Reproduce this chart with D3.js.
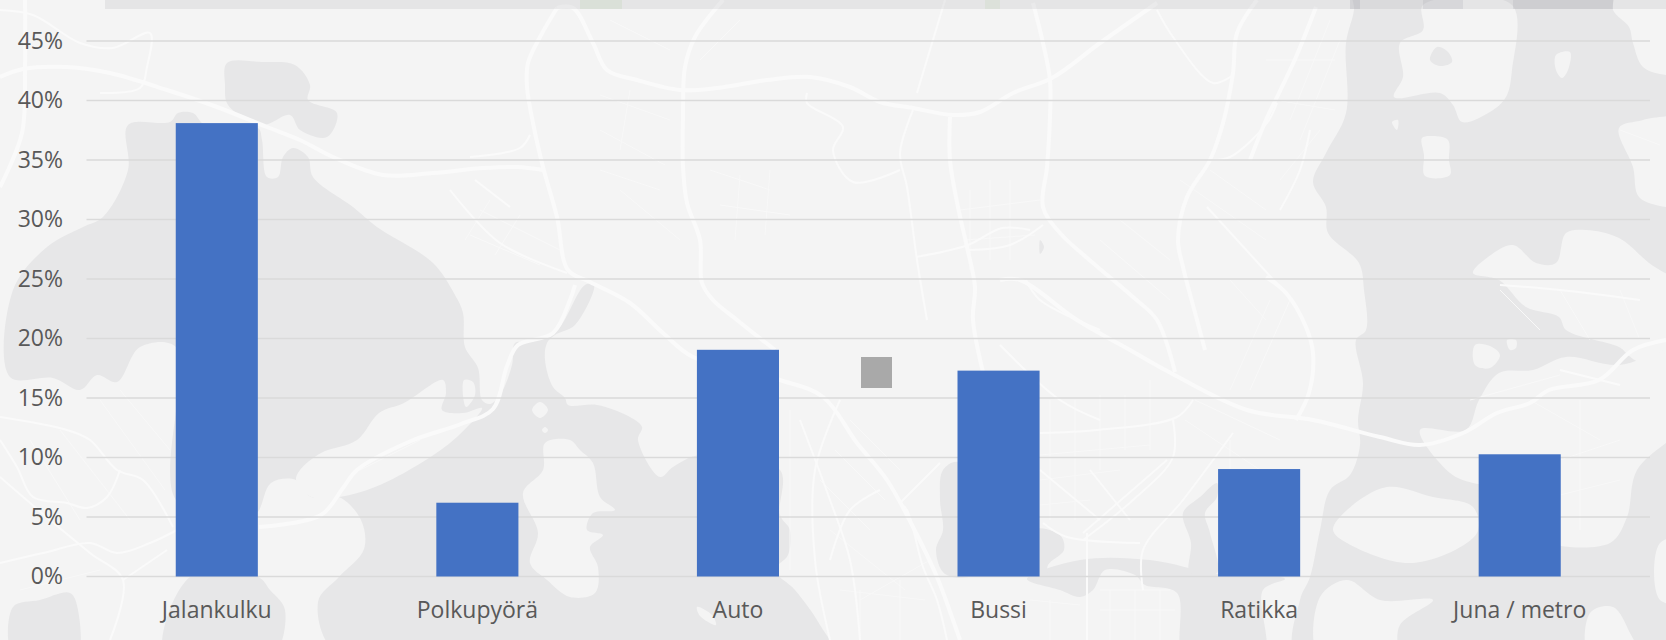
<!DOCTYPE html>
<html lang="fi">
<head>
<meta charset="utf-8">
<title>Kulkutavat</title>
<script src="https://cdnjs.cloudflare.com/ajax/libs/d3/7.8.5/d3.min.js"></script>
<style>
	html, body { margin: 0; padding: 0; background: #f4f4f4; overflow: hidden; }
	svg { display: block; }
	text { font-family: 'Open Sans', 'Noto Sans', sans-serif; }
</style>
</head>
<body>
<svg id="chart" width="1666" height="640"></svg>
<script>
// chart data
const categories = ['Jalankulku', 'Polkupyörä', 'Auto', 'Bussi', 'Ratikka', 'Juna / metro'];
const shares = [38.1, 6.2, 19.05, 17.3, 9.03, 10.27];
const tickValues = [0, 5, 10, 15, 20, 25, 30, 35, 40, 45];

// backdrop map, traced by hand (pixel coordinates, decoration only)
const waterAreas = [
	[[128,125],[170,122],[178,113],[193,113],[205,125],[258,128],[262,140],[267,177],[278,177],[283,157],[293,148],[308,157],[313,177],[353,207],[377,227],[433,263],[455,295],[463,313],[465,347],[478,368],[482,400],[490,404],[500,395],[512,365],[515,343],[530,342],[555,333],[585,285],[594,285],[575,325],[555,335],[547,343],[545,360],[553,387],[565,398],[568,405],[597,405],[630,417],[642,427],[638,440],[660,477],[673,467],[700,455],[780,470],[780,515],[790,530],[788,555],[775,570],[795,590],[820,625],[835,660],[343,660],[318,602],[339,577],[364,549],[361,520],[339,497],[311,497],[296,480],[271,483],[257,513],[240,520],[176,500],[176,347],[140,347],[117,382],[97,375],[80,390],[53,378],[10,377],[13,290],[47,247],[83,227],[103,217],[128,170]],
	[[190,577],[258,577],[270,590],[285,610],[270,660],[165,660]],
	[[13,607],[40,600],[70,593],[78,610],[75,660],[15,660]],
	[[227,63],[262,62],[295,65],[310,85],[308,100],[337,113],[327,137],[300,130],[290,115],[262,125],[228,105],[225,85]],
	[[1354,-10],[1354,10],[1346,43],[1346,113],[1326,153],[1313,182],[1326,207],[1328,233],[1359,263],[1364,290],[1366,330],[1356,340],[1363,383],[1358,420],[1360,445],[1350,475],[1330,490],[1320,530],[1310,577],[1300,600],[1298,660],[1690,660],[1690,207],[1666,207],[1639,197],[1633,167],[1619,128],[1643,120],[1690,108],[1690,75],[1666,75],[1643,67],[1633,43],[1629,27],[1613,10],[1613,-10]],
	[[1027,579],[1060,590],[1080,597],[1093,590],[1105,570],[1135,575],[1145,585],[1177,593],[1185,660],[1263,660],[1263,590],[1285,579],[1217,574],[1150,560],[1080,560]],
	[[958,462],[943,470],[940,500],[943,530],[936,550],[945,574],[975,574],[985,520]],
	[[1030,530],[1060,535],[1064,550],[1048,565],[1046,582],[1030,578]],
	[[1217,483],[1200,497],[1183,513],[1191,543],[1190,573],[1217,573],[1210,533],[1205,513],[1217,497]],
	[[1040,240],[1044,247],[1040,254]],
];
const landAreas = [
	[[300,470],[321,453],[357,440],[379,413],[404,403],[443,380],[446,393],[442,410],[463,413],[482,408],[457,437],[421,463],[375,487],[339,497],[311,497],[296,480]],
	[[545,443],[570,440],[580,450],[593,463],[600,497],[615,510],[593,513],[587,530],[603,535],[590,547],[598,567],[595,593],[570,597],[547,580],[530,563],[538,533],[523,493],[543,470]],
	[[464,380],[473,382],[475,395],[466,407]],
	[[532,410],[540,402],[548,410],[540,418]],
	[[542,430],[545,427],[548,430],[545,433]],
	[[1473,273],[1488,257],[1513,245],[1536,263],[1556,263],[1566,233],[1586,230],[1619,238],[1649,263],[1690,293],[1690,340],[1640,360],[1619,347],[1566,330],[1559,317],[1526,307],[1499,280]],
	[[1619,365],[1566,357],[1533,370],[1499,373],[1479,400],[1466,430],[1420,430],[1450,473],[1473,483],[1530,490],[1530,530],[1547,543],[1610,543],[1627,517],[1637,470],[1690,417],[1690,345]],
	[[1333,530],[1347,510],[1387,487],[1433,497],[1473,507],[1477,533],[1413,563],[1347,543]],
	[[1320,597],[1347,580],[1380,600],[1433,600],[1400,625],[1393,660],[1320,660]],
	[[1590,613],[1613,607],[1630,633],[1640,660],[1590,660]],
	[[1660,543],[1690,540],[1690,600],[1660,600]],
	[[1422,138],[1433,136],[1448,140],[1449,160],[1450,175],[1425,176],[1424,155]],
	[[1556,55],[1570,52],[1568,70],[1562,78],[1556,70]],
	[[1392,122],[1398,120],[1397,130]],
	[[1423,5],[1423,30],[1400,43],[1403,77],[1394,97],[1440,93],[1453,105],[1462,122],[1490,112],[1506,97],[1512,70],[1512,5]],
	[[1618,340],[1650,335],[1666,345],[1640,362]],
	[[1475,345],[1490,346],[1500,355],[1490,368],[1475,365]],
	[[1507,340],[1516,340],[1516,348],[1510,350]],
	[[697,607],[712,615],[716,625],[700,616]],
	[[1655,135],[1690,120],[1690,200],[1660,190]],
];
const ponds = [
	[[1430,60],[1437,47],[1448,52],[1452,62],[1440,66]],
];
const mainRoads = [
	[[0,77],[23,69],[67,67],[110,73],[167,90],[217,107],[267,127],[300,140],[333,157],[383,175],[433,173],[483,168],[517,167],[543,170]],
	[[557,8],[540,37],[528,63],[527,87],[533,123],[543,167],[557,217],[568,270],[590,282],[630,303],[663,333],[693,357],[780,380],[823,397],[857,443],[887,480],[913,527],[937,577],[953,620],[960,640]],
	[[557,8],[573,8],[593,43],[607,70],[637,80],[680,90],[717,88],[767,80],[810,77],[850,87],[880,102],[913,108],[953,115],[980,112],[1013,93],[1052,78],[1100,43],[1157,3]],
	[[723,0],[695,37],[685,67],[683,117],[683,167],[687,203],[700,240],[702,283],[713,300],[737,320],[775,350]],
	[[1033,3],[1043,43],[1050,80],[1050,117],[1047,167],[1043,207],[1060,233],[1093,263],[1133,297],[1157,320],[1175,372]],
	[[1000,280],[1020,280],[1077,320],[1130,350],[1169,372],[1247,410],[1313,420],[1380,437],[1420,445],[1463,433],[1497,413],[1530,403],[1549,390],[1599,380],[1633,350],[1666,340]],
	[[1257,0],[1237,33],[1233,73],[1223,123],[1210,160],[1187,197],[1178,240],[1183,267],[1197,320],[1205,350]],
	[[950,117],[950,160],[958,207],[967,247],[975,287],[973,320],[990,400]],
	[[25,0],[25,67],[22,133],[0,187]],
	[[259,527],[321,515],[343,488],[357,470],[411,441],[461,424],[493,409],[507,366],[518,345],[553,333],[570,300],[575,285]],
	[[1316,7],[1296,57],[1279,93],[1266,120],[1250,160]],
	[[1266,277],[1286,293],[1306,327],[1313,353],[1309,393],[1296,420]],
];
const minorRoads = [
	[[0,10],[33,15],[80,43],[113,48],[150,33],[147,67],[140,88],[100,93]],
	[[0,417],[67,430],[90,440],[117,470],[143,480],[173,527]],
	[[120,470],[107,497],[87,508],[67,503],[33,497],[17,467],[0,440]],
	[[0,477],[50,520],[90,553],[123,580],[110,640]],
	[[0,563],[43,553],[90,543],[117,553],[150,543],[177,530]],
	[[123,580],[167,550]],
	[[470,157],[520,148],[530,135]],
	[[450,190],[500,243],[567,273]],
	[[510,207],[475,180]],
	[[807,93],[807,103],[843,127],[833,150],[853,182],[900,170]],
	[[1157,10],[1173,37],[1213,83],[1233,75]],
	[[1207,207],[1280,287]],
	[[1277,103],[1267,123],[1230,157],[1210,160]],
	[[913,110],[900,153],[907,187],[917,260],[927,320]],
	[[945,0],[917,93]],
	[[900,503],[907,510],[923,567],[937,600],[947,640]],
	[[900,503],[940,463]],
	[[1040,433],[1097,430],[1177,417],[1193,400]],
	[[1233,433],[1183,500],[1143,550],[1143,590]],
	[[1083,533],[1167,460]],
	[[1087,533],[1087,640]],
	[[1173,420],[1173,457],[1133,500],[1083,540]],
	[[1043,523],[1067,537],[1140,543]],
	[[1026,280],[1040,300],[1100,330]],
	[[968,250],[1010,245],[1043,225]],
	[[916,257],[968,245],[1002,228],[1030,230]],
	[[800,420],[830,500],[850,560],[860,640]],
	[[840,400],[815,470],[815,560],[830,640]],
	[[880,490],[850,510],[830,560]],
	[[1310,130],[1300,170],[1280,210]],
	[[1500,285],[1560,290],[1640,300]],
	[[1560,370],[1620,385]],
	[[1090,470],[1130,520]],
	[[1040,470],[1100,520]],
	[[1000,345],[1060,400],[1100,420]],
];
// thin residential streets, only there for the texture of the map
const streets = [
	[[1050,400],[1050,520]],[[1075,400],[1075,520]],[[1100,395],[1100,470]],[[1125,395],[1125,450]],[[1150,380],[1150,450]],
	[[1040,455],[1150,445]],[[1040,480],[1120,470]],[[1040,505],[1090,500]],[[1100,590],[1170,590]],[[1100,610],[1175,610]],
	[[1110,590],[1110,640]],[[1135,590],[1135,640]],[[1160,590],[1160,640]],[[1030,600],[1080,605]],[[1050,600],[1050,640]],
	[[1185,420],[1260,470]],[[1195,400],[1280,440]],[[1230,440],[1230,480]],[[1290,300],[1250,390]],[[1270,300],[1230,390]],
	[[1330,20],[1290,120]],[[1340,40],[1300,140]],[[1280,180],[1320,130]],[[1266,60],[1335,60]],[[1275,100],[1335,110]],
	[[850,420],[900,470]],[[835,450],[885,500]],[[820,480],[870,530]],[[830,530],[905,590]],[[860,600],[930,560]],
	[[840,590],[925,600]],[[700,380],[760,380]],[[790,410],[790,570]],[[860,590],[860,640]],[[900,580],[900,640]],
	[[960,210],[1040,200]],[[965,240],[1035,235]],[[970,190],[970,270]],[[990,180],[990,260]],[[1010,180],[1010,260]],
	[[1100,240],[1170,300]],[[1120,220],[1170,260]],[[1180,180],[1266,240]],[[1210,170],[1266,210]],[[1230,280],[1266,320]],
	[[480,210],[560,250]],[[470,235],[540,265]],[[490,200],[465,240]],[[520,215],[495,255]],[[600,95],[670,120]],
	[[600,130],[665,165]],[[600,170],[660,190]],[[620,190],[680,240]],[[630,90],[620,150]],[[710,170],[770,190]],
	[[720,205],[790,215]],[[740,175],[735,240]],[[770,170],[765,235]],[[700,60],[740,20]],[[610,20],[670,50]],
	[[30,440],[80,520]],[[60,430],[130,520]],[[120,390],[170,450]],[[100,400],[165,490]],[[20,590],[100,570]],
	[[1500,290],[1540,330]],[[1560,290],[1590,340]],[[1620,290],[1640,340]],[[1470,400],[1560,375]],[[1530,400],[1600,440]],
	[[1560,460],[1620,440]],[[1540,500],[1620,480]],[[1580,400],[1580,530]],[[1620,130],[1660,145]],[[360,470],[420,440]],
];
// the top strip shows the map without the translucent panel: [x0, x1, colour, opacity]
const stripPatches = [
	[105, 1666, '#8f8f96', 0.14],
	[580, 622, '#b7d2a8', 0.22],
	[985, 1000, '#b7d2a8', 0.18],
	[1350, 1360, '#8f8f9c', 0.2],
	[1423, 1463, '#8f8f9c', 0.16],
	[1513, 1613, '#8f8f9c', 0.16],
];

// layout
const width = 1666;
const height = 640;
const plot = { left: 86.5, right: 1650, top: 41, bottom: 576.5 };
const stripHeight = 9;
const colors = {
	land: '#f4f4f4',
	water: '#e7e7e8',
	road: '#fafafa',
	street: '#f8f8f8',
	grid: '#dadada',
	bar: '#4472c4',
	text: '#595959',
	marker: '#a9a9a9',
};

const svg = d3.select('#chart');

const areaPath = d3.line().curve(d3.curveCatmullRomClosed.alpha(0.5));
const roadPath = d3.line().curve(d3.curveCatmullRom.alpha(0.5));

// --- map backdrop ---
const map = svg.append('g').attr('class', 'map');

map.append('rect')
	.attr('width', width)
	.attr('height', height)
	.attr('fill', colors.land);

const fillAreas = (name, data, fill) =>
	map.selectAll(`path.${name}`)
		.data(data)
		.join('path')
		.attr('class', name)
		.attr('d', areaPath)
		.attr('fill', fill);

const strokeRoads = (name, data, stroke, strokeWidth) =>
	map.selectAll(`path.${name}`)
		.data(data)
		.join('path')
		.attr('class', name)
		.attr('d', roadPath)
		.attr('fill', 'none')
		.attr('stroke', stroke)
		.attr('stroke-width', strokeWidth);

fillAreas('water', waterAreas, colors.water);
fillAreas('land', landAreas, colors.land);
fillAreas('pond', ponds, colors.water);
strokeRoads('street', streets, colors.street, 1);
strokeRoads('minor', minorRoads, colors.road, 2);
strokeRoads('main', mainRoads, colors.road, 4);

map.selectAll('rect.strip')
	.data(stripPatches)
	.join('rect')
	.attr('class', 'strip')
	.attr('x', (d) => d[0])
	.attr('width', (d) => d[1] - d[0])
	.attr('height', stripHeight)
	.attr('fill', (d) => d[2])
	.attr('opacity', (d) => d[3]);

// --- scales ---
const x = d3.scaleBand()
	.domain(categories)
	.range([plot.left, plot.right])
	.paddingInner(0.685)
	.paddingOuter(0.3425);

const y = d3.scaleLinear()
	.domain([0, 45])
	.range([plot.bottom, plot.top]);

// --- grid ---
svg.append('g')
	.attr('class', 'grid')
	.selectAll('line')
	.data(tickValues)
	.join('line')
	.attr('x1', plot.left)
	.attr('x2', plot.right)
	.attr('y1', (d) => y(d))
	.attr('y2', (d) => y(d))
	.attr('stroke', colors.grid)
	.attr('stroke-width', 1.5);

// --- bars ---
svg.append('g')
	.attr('class', 'bars')
	.selectAll('rect')
	.data(categories)
	.join('rect')
	.attr('x', (d) => x(d))
	.attr('y', (d, i) => y(shares[i]))
	.attr('width', x.bandwidth())
	.attr('height', (d, i) => y(0) - y(shares[i]))
	.attr('fill', colors.bar);

// stray grey square that sits between Auto and Bussi
svg.append('rect')
	.attr('class', 'marker')
	.attr('x', 861)
	.attr('y', 357)
	.attr('width', 31)
	.attr('height', 31)
	.attr('fill', colors.marker);

// --- axes ---
const yAxis = svg.append('g')
	.attr('class', 'y-axis')
	.attr('transform', `translate(${plot.left - 23.5},0)`)
	.call(
		d3.axisLeft(y)
			.tickValues(tickValues)
			.tickFormat((d) => `${d}%`)
			.tickSize(0)
			.tickPadding(0)
	);

const xAxis = svg.append('g')
	.attr('class', 'x-axis')
	.attr('transform', `translate(0,${plot.bottom})`)
	.call(d3.axisBottom(x).tickSize(0).tickPadding(25));

[yAxis, xAxis].forEach((axis) => {
	axis.select('.domain').remove();
	axis.selectAll('text')
		.style('font-family', "'Open Sans', 'Noto Sans', sans-serif")
		.style('font-size', '23px')
		.style('fill', colors.text);
});
</script>
</body>
</html>
